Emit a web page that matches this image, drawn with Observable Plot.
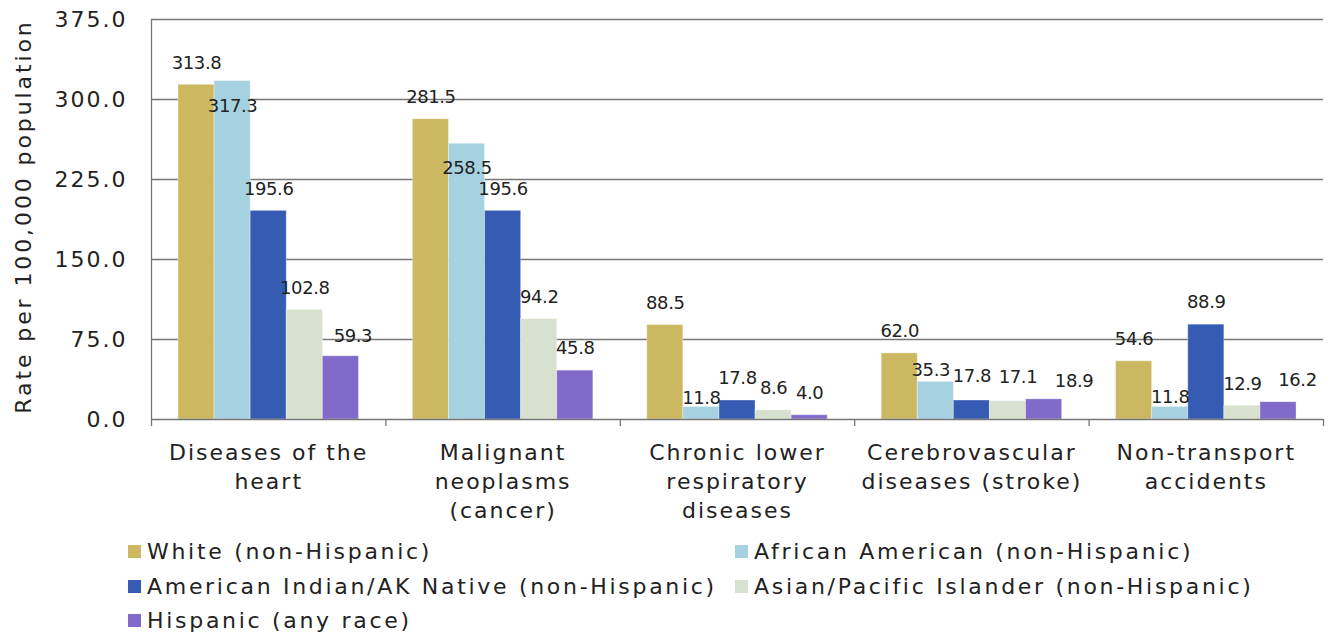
<!DOCTYPE html>
<html>
<head>
<meta charset="utf-8">
<script src="https://cdn.jsdelivr.net/npm/d3@7"></script>
<script src="https://cdn.jsdelivr.net/npm/@observablehq/plot@0.6"></script>
<style>
  html, body { margin: 0; padding: 0; background: #fff; }
  body { width: 1332px; height: 635px; position: relative; overflow: hidden; font-family: "DejaVu Sans", sans-serif; color: #222; }
  #chart svg { display: block; }
  .legend-item { position: absolute; height: 34px; display: flex; align-items: center; font-size: 22px; letter-spacing: 2.7px; white-space: nowrap; color: #222; }
  .legend-item .sw { width: 13px; height: 13px; margin-right: 6px; flex: none; }
</style>
</head>
<body>
<div id="chart"></div>
<div id="legend"></div>
<script>
// ---------- data ----------
const categories = [
  "Diseases of the heart",
  "Malignant neoplasms (cancer)",
  "Chronic lower respiratory diseases",
  "Cerebrovascular diseases (stroke)",
  "Non-transport accidents"
];
const categoryLabels = [
  "Diseases of the\nheart",
  "Malignant\nneoplasms\n(cancer)",
  "Chronic lower\nrespiratory\ndiseases",
  "Cerebrovascular\ndiseases (stroke)",
  "Non-transport\naccidents"
];
const seriesNames = [
  "White (non-Hispanic)",
  "African American (non-Hispanic)",
  "American Indian/AK Native (non-Hispanic)",
  "Asian/Pacific Islander (non-Hispanic)",
  "Hispanic (any race)"
];
const whiteNonHispanic        = [313.8, 281.5, 88.5, 62.0, 54.6];
const africanAmericanNonHisp  = [317.3, 258.5, 11.8, 35.3, 11.8];
const americanIndianNonHisp   = [195.6, 195.6, 17.8, 17.8, 88.9];
const asianPacificNonHisp     = [102.8, 94.2, 8.6, 17.1, 12.9];
const hispanicAnyRace         = [59.3, 45.8, 4.0, 18.9, 16.2];
const yTicks = [0, 75, 150, 225, 300, 375];
const yAxisTitle = "Rate per 100,000 population";

// ---------- styles ----------
const colors = ["#CDB862", "#A6D1E0", "#365BB3", "#D8E0CF", "#806ACA"];
const textColor = "#222";
const axisColor = "#767676";

// label placement: default sits above the bar; a few labels are nudged (as in the original)
const defaultLabelOffset = [0, -22];
const labelNudges = {
  "0|1": [0, 25], "0|4": [12, -20],
  "1|1": [0, 24],
  "2|1": [0, -9],
  "3|1": [-5, -12], "3|2": [0, -24], "3|3": [10, -24], "3|4": [30, -18],
  "4|1": [0, -10], "4|4": [19, -22]
};

// ---------- build table ----------
const seriesValues = [whiteNonHispanic, africanAmericanNonHisp, americanIndianNonHisp, asianPacificNonHisp, hispanicAnyRace];
const groupPad = 0.115;                 // fraction of a group left empty on each side
const barW = (1 - 2 * groupPad) / seriesNames.length;
const rows = [];
categories.forEach((c, ci) => {
  seriesNames.forEach((s, si) => {
    const x1 = ci + groupPad + si * barW;
    rows.push({category: c, ci, series: s, si, value: seriesValues[si][ci], x1, x2: x1 + barW, xc: x1 + barW / 2});
  });
});
const fmt = d3.format(".1f");

const labelMarks = rows.map(r => {
  const [dx, dy] = labelNudges[r.ci + "|" + r.si] || defaultLabelOffset;
  return Plot.text([r], {x: "xc", y: "value", text: d => fmt(d.value), dx, dy, fontSize: 18, fill: textColor, ariaDescription: "value-labels"});
});

const chart = Plot.plot({
  width: 1332,
  height: 530,
  marginLeft: 151,
  marginRight: 9,
  marginTop: 19,
  marginBottom: 111,
  style: {fontFamily: "'DejaVu Sans', sans-serif", fontSize: "22px", color: textColor, background: "#fff", letterSpacing: "2px"},
  x: {domain: [0, categories.length], axis: null},
  y: {domain: [0, 375], axis: null},
  color: {domain: seriesNames, range: colors},
  marks: [
    Plot.ruleY(yTicks.slice(1), {stroke: axisColor, strokeWidth: 1.3}),
    Plot.rectY(rows, {x1: "x1", x2: "x2", y: "value", fill: "series", stroke: "#fff", strokeOpacity: 0.35, strokeWidth: 1}),
    Plot.ruleY([0], {stroke: axisColor, strokeWidth: 1.3}),
    Plot.ruleX([0], {y1: 0, y2: 375, stroke: axisColor, strokeWidth: 1.3}),
    Plot.axisX({ticks: d3.range(categories.length + 1), tickSize: 7, tickFormat: () => "", label: null, stroke: axisColor, strokeWidth: 1.3}),
    Plot.axisY({ticks: yTicks, tickSize: 0, tickPadding: 24, tickFormat: fmt, label: null, fontSize: 22, fill: textColor}),
    ...labelMarks,
    Plot.text(categories, {x: (d, i) => i + 0.5, y: 0, text: (d, i) => categoryLabels[i], lineAnchor: "top", dy: 20.5, lineHeight: 1.3, fontSize: 22, fill: textColor}),
    Plot.text([yAxisTitle], {frameAnchor: "left", textAnchor: "middle", rotate: -90, dx: -128, dy: -3, fontSize: 22, fill: textColor, ariaDescription: "y-title"})
  ]
});
chart.querySelectorAll('[aria-description="value-labels"]').forEach(g => g.style.letterSpacing = "-0.4px");
chart.querySelectorAll('[aria-description="y-title"]').forEach(g => g.style.letterSpacing = "2.9px");
document.getElementById("chart").appendChild(chart);

// ---------- legend ----------
const legend = document.getElementById("legend");
const legendPos = [[128, 551], [735, 551], [128, 586], [735, 586], [128, 620]];
seriesNames.forEach((s, i) => {
  const item = document.createElement("div");
  item.className = "legend-item";
  item.style.left = legendPos[i][0] + "px";
  item.style.top = (legendPos[i][1] - 17) + "px";
  const sw = document.createElement("span");
  sw.className = "sw";
  sw.style.background = colors[i];
  const t = document.createElement("span");
  t.textContent = s;
  item.appendChild(sw);
  item.appendChild(t);
  legend.appendChild(item);
});
</script>
</body>
</html>
